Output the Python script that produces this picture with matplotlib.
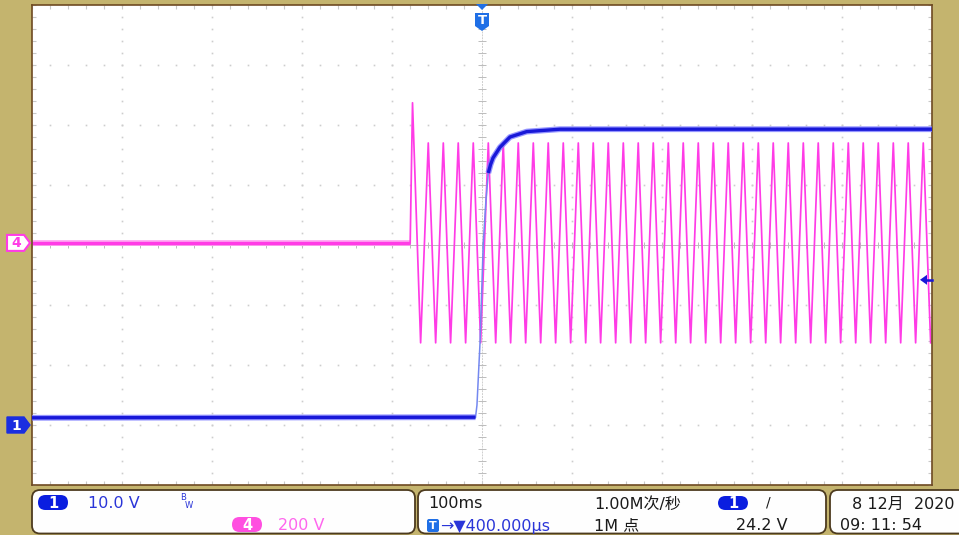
import numpy as np
import matplotlib
matplotlib.use('Agg')
import matplotlib.pyplot as plt
from matplotlib.patches import Polygon, FancyBboxPatch

plt.rcParams['font.family'] = ['DejaVu Sans', 'Noto Sans CJK SC']

# ================================
# Scope settings
# ================================
CH1_VOLT_PER_DIV = 10.0
CH4_VOLT_PER_DIV = 200.0
CH1_OFFSET_DIV = -3.0      # ground marker of channel 1
CH4_OFFSET_DIV = 0.035     # ground marker of channel 4
TRIG_LEVEL = 24.2          # V on channel 1

# CH1: DC output step (time in ms, value in V)
ch1_t = [-500.0, -7.2, -5.6, -2.2, 1.4, 4.4, 7.0, 9.5, 12.2, 20.0, 31.1, 49.7, 86.7, 500.0]
ch1_v = [1.2, 1.3, 3.3, 13.7, 30.3, 37.5, 42.0, 43.4, 44.5, 46.3, 48.0, 48.9, 49.3, 49.3]

# CH4: AC input, flat before switch-on, then mains sine (extrema, ms / V)
ch4_flat_t = [-500.0, -79.8]
ch4_flat_v = [0.0, 0.0]
ch4_peak_t = [-77.2, -59.7, -43.0, -26.4, -9.7, 7.0, 23.6, 40.3, 57.0, 73.6, 90.3,
              107.0, 123.6, 140.3, 157.0, 173.6, 190.3, 207.0, 223.6, 240.3, 257.0,
              273.6, 290.3, 307.0, 323.6, 340.3, 357.0, 373.6, 390.3, 407.0, 423.6,
              440.3, 457.0, 473.6, 490.3]
ch4_peak_v = [467] + [333] * 34
ch4_trough_t = [-68.2, -51.5, -34.9, -18.2, -1.5, 15.2, 31.8, 48.5, 65.2, 81.8, 98.5,
                115.2, 131.8, 148.5, 165.2, 181.8, 198.5, 215.2, 231.8, 248.5, 265.2,
                281.8, 298.5, 315.2, 331.8, 348.5, 365.2, 381.8, 398.5, 415.2, 431.8,
                448.5, 465.2, 481.8, 498.5]
ch4_trough_v = [-333] * 35

# Status bar texts
ch1_scale_txt = '10.0 V'
ch4_scale_txt = '200 V'
timebase_txt = '100ms'
trig_pos_txt = '→▼400.000µs'
rate_txt = '1.00M次/秒'
points_txt = '1M 点'
trig_level_txt = '24.2 V'
date_txt = '8 12月  2020'
clock_txt = '09: 11: 54'

# ================================
# Colors
# ================================
TAN = '#c4b46e'
BROWN = '#6e4a22'
BLUE = '#1818d8'
BLUE_TXT = '#2a35d8'
PINK = '#ff3ce6'
TRIG_BLUE = '#1f6fe6'
GRID = '#cdcdcd'

W, H = 959, 535
fig = plt.figure(figsize=(W / 100, H / 100), dpi=100, facecolor=TAN)
ax = fig.add_axes([32 / W, 50 / H, 900 / W, 480 / H])
ax.set_facecolor('white')
ax.set_xlim(-500, 500)
ax.set_ylim(-4, 4)

# ---- graticule ----
for xd in range(-4, 5):
    if xd == 0:
        continue
    ys = np.arange(-4, 4.01, 0.2)
    ax.plot(np.full_like(ys, xd * 100.0), ys, ls='none', marker='s', ms=1.2,
            color=GRID, mec='none', zorder=1)
for yd in range(-3, 4):
    if yd == 0:
        continue
    xs = np.arange(-500, 501, 20)
    ax.plot(xs, np.full(len(xs), float(yd)), ls='none', marker='s', ms=1.2,
            color=GRID, mec='none', zorder=1)
ax.axhline(0, color='#bcbcbc', lw=0.7, zorder=1)
ax.axvline(0, color='#cfcfcf', lw=0.7, ls=(0, (2, 1)), zorder=1)
ax.vlines(np.arange(-500, 501, 20), -0.05, 0.05, color='#bcbcbc', lw=0.7, zorder=1)
ax.hlines(np.arange(-4, 4.01, 0.2), -4, 4, color='#bcbcbc', lw=0.7, zorder=1)

ax.set_xticks(np.arange(-500, 501, 20))
ax.set_yticks(np.arange(-4, 4.01, 0.2))
ax.tick_params(direction='in', length=3, color='#c8c8c8', top=True, right=True,
               labelbottom=False, labelleft=False)
for s in ax.spines.values():
    s.set_color(BROWN)
    s.set_linewidth(1.2)

# ---- channel 4 ----
y4 = lambda v: CH4_OFFSET_DIV + np.asarray(v, dtype=float) / CH4_VOLT_PER_DIV
ax.plot(ch4_flat_t, y4(ch4_flat_v), color='#ffa8f2', lw=4.2, solid_capstyle='butt', zorder=2)
ax.plot(ch4_flat_t, y4(ch4_flat_v), color=PINK, lw=2.4, solid_capstyle='butt', zorder=2)
osc_t = np.array([ch4_flat_t[-1]] + ch4_peak_t + ch4_trough_t)
osc_v = np.array([ch4_flat_v[-1]] + ch4_peak_v + ch4_trough_v, dtype=float)
order = np.argsort(osc_t)
ax.plot(osc_t[order], y4(osc_v[order]), color=PINK, lw=1.25, zorder=2)

# ---- channel 1 ----
y1 = lambda v: CH1_OFFSET_DIV + np.asarray(v, dtype=float) / CH1_VOLT_PER_DIV
ax.plot(ch1_t[1:7], y1(ch1_v[1:7]), color='#7488f0', lw=1.1, zorder=3)
for seg in (slice(0, 2), slice(6, None)):
    ax.plot(ch1_t[seg], y1(ch1_v[seg]), color='#7b7bff', lw=4.2, alpha=0.8, zorder=3,
            solid_capstyle='butt')
    ax.plot(ch1_t[seg], y1(ch1_v[seg]), color=BLUE, lw=2.4, zorder=3, solid_capstyle='butt')

# ================================
# Overlay in pixel coordinates
# ================================
ov = fig.add_axes([0, 0, 1, 1], zorder=5)
ov.set_xlim(0, W)
ov.set_ylim(H, 0)
ov.axis('off')
ov.patch.set_alpha(0)


def to_px(t, yd):
    return ov.transData.inverted().transform(ax.transData.transform((t, yd)))


# channel markers on the left
_, py4 = to_px(0, CH4_OFFSET_DIV)
ov.add_patch(Polygon([(7, py4 - 8), (24, py4 - 8), (30, py4), (24, py4 + 8), (7, py4 + 8)],
                     closed=True, fc='white', ec=PINK, lw=1.5))
ov.text(16.5, py4 + 0.5, '4', color=PINK, fontsize=10, fontweight='bold', ha='center', va='center')
_, py1 = to_px(0, CH1_OFFSET_DIV)
ov.add_patch(Polygon([(7, py1 - 8), (24, py1 - 8), (30, py1), (24, py1 + 8), (7, py1 + 8)],
                     closed=True, fc='#1a2ee0', ec='#1a2ee0', lw=1))
ov.text(16.5, py1 + 0.5, '1', color='white', fontsize=10, fontweight='bold', ha='center', va='center')

# trigger position marker on top
tx, _ = to_px(0, 0)
ov.add_patch(Polygon([(tx - 6, 4), (tx + 6, 4), (tx, 10)], closed=True, fc=TRIG_BLUE, ec='none'))
ov.add_patch(Polygon([(tx - 7, 13), (tx + 7, 13), (tx + 7, 26), (tx, 31), (tx - 7, 26)],
                     closed=True, fc=TRIG_BLUE, ec='none'))
ov.text(tx, 21, 'T', color='white', fontsize=9.5, fontweight='bold', ha='center', va='center')

# trigger level arrow on the right
_, pyt = to_px(0, CH1_OFFSET_DIV + TRIG_LEVEL / CH1_VOLT_PER_DIV)
ov.add_patch(Polygon([(920, pyt), (927, pyt - 5), (927, pyt + 5)], closed=True, fc=BLUE, ec='none'))
ov.plot([925, 932], [pyt, pyt], color=BLUE, lw=1.8)

# ---- status bar ----
for x0, x1 in ((32, 415), (418, 826), (830, 985)):
    ov.add_patch(FancyBboxPatch((x0, 490), x1 - x0, 43.5,
                                boxstyle='round,pad=0,rounding_size=8',
                                fc='#fefefe', ec='#4d3b1f', lw=1.3))


def pill(x, y, label, color, w=30, h=15):
    ov.add_patch(FancyBboxPatch((x, y), w, h, boxstyle='round,pad=0,rounding_size=7.5',
                                fc=color, ec='none'))
    ov.text(x + w / 2, y + h / 2 + 0.5, label, color='white', fontsize=10.5,
            fontweight='bold', ha='center', va='center')


TXT = dict(fontsize=11.5, ha='left', va='center')
pill(38, 495, '1', '#0a1ee0')
ov.text(88, 503, ch1_scale_txt, color=BLUE_TXT, **TXT)
ov.text(180, 498, 'B', color=BLUE_TXT, fontsize=6, ha='left', va='center')
ov.text(185, 506, 'W', color=BLUE_TXT, fontsize=6, ha='left', va='center')
pill(232, 517, '4', '#ff4fe0')
ov.text(278, 525.5, ch4_scale_txt, color='#ff66ee', **TXT)

ov.text(428, 504, timebase_txt, color='#1a1a1a', **TXT)
ov.add_patch(FancyBboxPatch((427, 519), 12, 13, boxstyle='round,pad=0,rounding_size=2',
                            fc=TRIG_BLUE, ec='none'))
ov.text(433, 526, 'T', color='white', fontsize=8, fontweight='bold', ha='center', va='center')
ov.text(440, 526, trig_pos_txt, color=BLUE_TXT, **TXT)
ov.text(594, 504, rate_txt, color='#1a1a1a', **TXT)
ov.text(594, 526, points_txt, color='#1a1a1a', **TXT)
pill(718, 496, '1', '#0a1ee0', h=14)
ov.text(766, 503, '/', color='#1a1a1a', fontsize=10, ha='left', va='center')
ov.text(736, 526, trig_level_txt, color='#1a1a1a', **TXT)

ov.text(852, 504, date_txt, color='#1a1a1a', **TXT)
ov.text(840, 526, clock_txt, color='#1a1a1a', **TXT)

fig.savefig('out.png', dpi=100, facecolor=TAN)
